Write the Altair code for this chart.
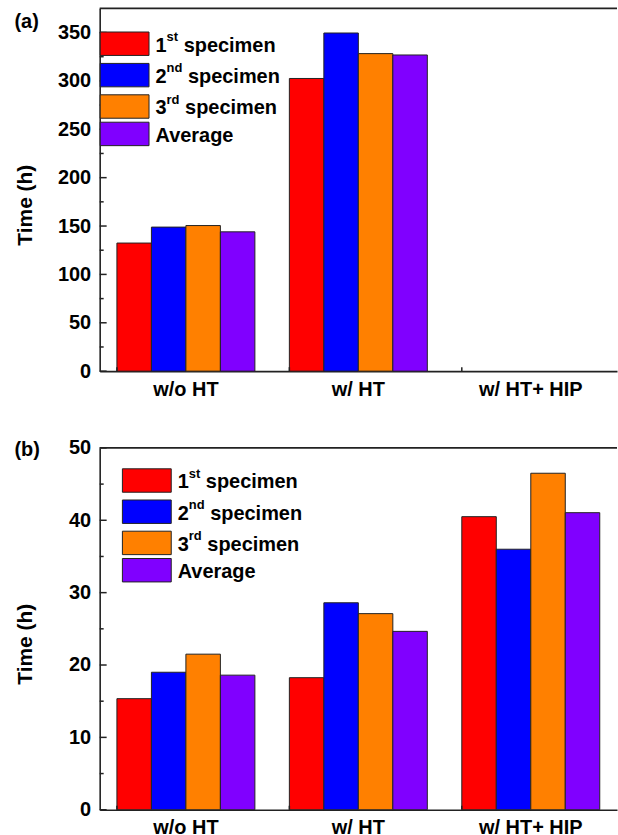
import altair as alt
import pandas as pd

# ---------------- data ----------------
categories = ["w/o HT", "w/ HT", "w/ HT+ HIP"]
series = ["1st specimen", "2nd specimen", "3rd specimen", "Average"]
colors = ["#FF0000", "#0000FF", "#FF8000", "#8000FF"]

# panel (a)  (no bars for w/ HT+ HIP)
a_first = [132.4, 302.5, None]
a_second = [148.9, 349.5, None]
a_third = [150.5, 328.2, None]
a_avg = [144.0, 326.8, None]

# panel (b)
b_first = [15.35, 18.25, 40.5]
b_second = [19.0, 28.6, 36.0]
b_third = [21.5, 27.1, 46.5]
b_avg = [18.6, 24.65, 41.05]

a_domain = [0, 375]
a_major = [0, 50, 100, 150, 200, 250, 300, 350]
a_minor = [25, 75, 125, 175, 225, 275, 325]
b_domain = [0, 50]
b_major = [0, 10, 20, 30, 40, 50]
b_minor = [5, 15, 25, 35, 45]

leg_pre = ["1", "2", "3", "Average"]
leg_sup = ["st", "nd", "rd", ""]
leg_rest = ["specimen", "specimen", "specimen", ""]

# ---------------- style / layout ----------------
FONT = "Liberation Sans"
AX = "#222222"
W = 519
H_A, H_B = 364, 363
FS = 20
SUP_FS = 13
ONE = pd.DataFrame({"k": [0]})


def long_df(vals):
    rows = []
    for s, v in zip(series, vals):
        for c, x in zip(categories, v):
            if x is not None:
                rows.append({"cat": c, "series": s, "val": x})
    return pd.DataFrame(rows)


def txt(x, y, t, size=FS):
    return alt.Chart(ONE).mark_text(
        font=FONT, fontWeight="bold", fontSize=size, align="left",
        baseline="alphabetic", color="black").encode(
        x=alt.value(x), y=alt.value(y), text=alt.value(t))


def legend_layers(x0, cy):
    sw_w, sw_h = 49, 23.5
    sup_w = {"st": 0.889, "nd": 1.222, "rd": 1.0, "": 0.0}
    layers = []
    for i, s in enumerate(series):
        layers.append(alt.Chart(ONE).mark_rect(
            stroke=AX, strokeWidth=1, fill=colors[i]).encode(
            x=alt.value(x0), x2=alt.value(x0 + sw_w),
            y=alt.value(cy[i] - sw_h / 2), y2=alt.value(cy[i] + sw_h / 2)))
        tx = x0 + sw_w + 6.5
        layers.append(txt(tx, cy[i] + 8, leg_pre[i]))
        if leg_sup[i]:
            sx = tx + 0.556 * FS
            layers.append(txt(sx, cy[i] - 3, leg_sup[i], SUP_FS))
            rx = sx + sup_w[leg_sup[i]] * SUP_FS + 0.278 * FS
            layers.append(txt(rx, cy[i] + 8, leg_rest[i]))
    return layers


color_scale = alt.Scale(domain=series, range=colors)


def panel(vals, domain, major, minor, tag, H, leg_x0, leg_cy, tag_y):
    df = long_df(vals)
    xscale = alt.Scale(domain=categories, paddingInner=0.2, paddingOuter=0.1)
    yscale = alt.Scale(domain=domain, nice=False, zero=True)
    xaxis = alt.Axis(
        title=None, labelAngle=0, ticks=False, tickSize=0,
        domainColor=AX, domainWidth=1.6, labelFont=FONT,
        labelFontSize=FS, labelFontWeight="bold", labelColor="black",
        labelPadding=8)
    yaxis = alt.Axis(
        title="Time (h)", values=major, ticks=False, tickSize=0, grid=False,
        domainColor=AX, domainWidth=1.6, labelFont=FONT,
        labelFontSize=FS, labelFontWeight="bold", labelColor="black",
        labelPadding=9, titleFont=FONT, titleFontSize=21,
        titleFontWeight="bold", titleColor="black", titleAngle=270,
        titleX=-74.5, titleY=H / 2 + 15, titleBaseline="middle",
        titleAlign="center")

    bars = alt.Chart(df).mark_bar(stroke=AX, strokeWidth=1).encode(
        x=alt.X("cat:N", scale=xscale, axis=xaxis),
        xOffset=alt.XOffset("series:N",
                            scale=alt.Scale(domain=series, paddingInner=0, paddingOuter=0)),
        y=alt.Y("val:Q", scale=yscale, axis=yaxis),
        color=alt.Color("series:N", scale=color_scale, legend=None),
    )

    major_ticks = alt.Chart(pd.DataFrame({"val": major})).mark_rule(
        color=AX, strokeWidth=1.5).encode(
        y=alt.Y("val:Q", scale=yscale, axis=yaxis),
        x=alt.value(0), x2=alt.value(7))
    minor_ticks = alt.Chart(pd.DataFrame({"val": minor})).mark_rule(
        color=AX, strokeWidth=1.5).encode(
        y=alt.Y("val:Q", scale=yscale, axis=yaxis),
        x=alt.value(0), x2=alt.value(4))
    cat_ticks = alt.Chart(pd.DataFrame({"cat": categories})).mark_rule(
        color=AX, strokeWidth=1.5).encode(
        x=alt.X("cat:N", scale=xscale, bandPosition=0, axis=xaxis),
        y=alt.value(H), y2=alt.value(H - 4))
    top_border = alt.Chart(ONE).mark_rule(
        color=AX, strokeWidth=1.6).encode(
        x=alt.value(0), x2=alt.value(W), y=alt.value(0))

    layers = [bars, major_ticks, minor_ticks, cat_ticks, top_border]
    layers += legend_layers(leg_x0, leg_cy)
    layers.append(txt(-85.5, tag_y, tag))
    return alt.layer(*layers).properties(width=W, height=H)


pa = panel([a_first, a_second, a_third, a_avg], a_domain, a_major, a_minor,
           "(a)", H_A, 0.5, [35.5, 67, 98.5, 126], 19.5)
pb = panel([b_first, b_second, b_third, b_avg], b_domain, b_major, b_minor,
           "(b)", H_B, 22.8, [32.7, 64, 95.3, 122.7], 8)

chart = alt.vconcat(pa, pb, spacing=39).properties(
    padding={"left": 14, "top": 6, "right": 0, "bottom": 4},
    background="white",
).configure_view(stroke=None)

chart.save("out.html", embed_options={"renderer": "svg", "actions": False})
